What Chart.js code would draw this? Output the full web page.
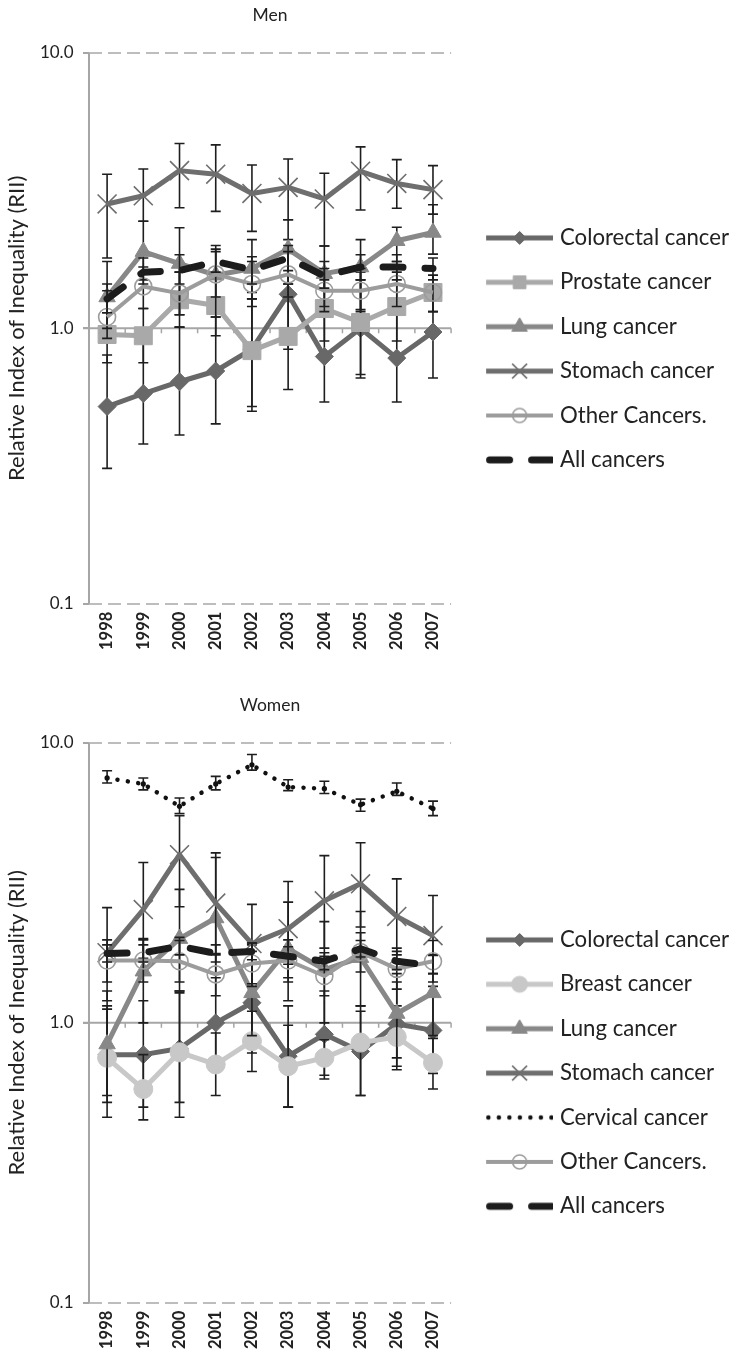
<!DOCTYPE html>
<html>
<head>
<meta charset="utf-8">
<title>Relative Index of Inequality</title>
<script src="https://cdn.jsdelivr.net/npm/chart.js@4/dist/chart.umd.min.js"></script>
<style>
  body { margin: 0; background: #fff; }
  canvas { display: block; }
</style>
</head>
<body>
<canvas id="men-chart" width="739" height="690"></canvas>
<canvas id="women-chart" width="739" height="668"></canvas>
<script>
'use strict'

//categories
let years = ['1998', '1999', '2000', '2001', '2002', '2003', '2004', '2005', '2006', '2007'];
//y axis ticks (log scale)
let yTicks = [0.1, 1, 10];

//men - RII and 95% limits
let menColorectal = [0.52, 0.58, 0.64, 0.70, 0.84, 1.33, 0.79, 1.00, 0.78, 0.97];
let menColorectalLow = [0.31, 0.38, 0.41, 0.45, 0.50, 0.84, 0.54, 0.66, 0.54, 0.66];
let menColorectalHigh = [0.80, 0.89, 1.01, 1.10, 1.35, 2.10, 1.15, 1.50, 1.15, 1.45];

let menProstate = [0.95, 0.94, 1.27, 1.21, 0.83, 0.935, 1.18, 1.05, 1.20, 1.35];
let menProstateLow = [0.75, 0.75, 1.01, 0.94, 0.52, 0.60, 0.90, 0.68, 0.90, 1.15];
let menProstateHigh = [1.14, 1.18, 1.60, 1.55, 1.28, 1.45, 1.50, 1.60, 1.60, 1.56];

let menLung = [1.30, 1.90, 1.72, 1.56, 1.65, 1.94, 1.58, 1.67, 2.08, 2.23];
let menLungLow = [1.00, 1.50, 1.12, 1.10, 1.28, 1.45, 1.20, 1.17, 1.75, 1.86];
let menLungHigh = [1.75, 2.45, 2.32, 2.00, 2.10, 2.48, 1.99, 2.10, 2.33, 2.81];

let menStomach = [2.83, 3.03, 3.74, 3.63, 3.09, 3.25, 2.95, 3.72, 3.36, 3.19];
let menStomachLow = [1.80, 2.45, 2.74, 2.66, 2.25, 2.48, 1.99, 2.69, 2.73, 2.60];
let menStomachHigh = [3.63, 3.79, 4.69, 4.64, 3.92, 4.12, 3.66, 4.56, 4.10, 3.90];

let menOther = [1.10, 1.42, 1.34, 1.57, 1.45, 1.57, 1.37, 1.37, 1.45, 1.35];
let menOtherLow = [0.92, 1.18, 1.12, 1.30, 1.20, 1.30, 1.15, 1.15, 1.20, 1.15];
let menOtherHigh = [1.37, 1.67, 1.60, 1.90, 1.75, 1.90, 1.65, 1.65, 1.75, 1.56];

let menAll = [1.28, 1.60, 1.62, 1.75, 1.63, 1.80, 1.55, 1.67, 1.67, 1.65];
let menAllLow = [1.14, 1.45, 1.45, 1.60, 1.45, 1.62, 1.40, 1.50, 1.50, 1.50];
let menAllHigh = [1.45, 1.80, 1.85, 1.94, 1.82, 2.00, 1.75, 1.85, 1.85, 1.80];

//women - RII and 95% limits
let womenColorectal = [0.77, 0.77, 0.81, 1.00, 1.18, 0.76, 0.91, 0.79, 0.99, 0.94];
let womenColorectalLow = [0.52, 0.50, 0.52, 0.70, 0.78, 0.50, 0.63, 0.55, 0.70, 0.66];
let womenColorectalHigh = [1.12, 1.20, 1.28, 1.45, 1.80, 1.15, 1.30, 1.10, 1.40, 1.35];

let womenBreast = [0.75, 0.58, 0.785, 0.71, 0.86, 0.70, 0.75, 0.85, 0.89, 0.72];
let womenBreastLow = [0.46, 0.45, 0.46, 0.55, 0.67, 0.50, 0.65, 0.55, 0.68, 0.58];
let womenBreastHigh = [1.15, 0.77, 1.30, 0.92, 1.10, 0.98, 0.87, 1.15, 1.15, 0.88];

let womenLung = [0.84, 1.53, 2.00, 2.37, 1.28, 1.84, 1.55, 1.71, 1.08, 1.28];
let womenLungLow = [0.55, 1.00, 1.30, 1.50, 0.90, 1.20, 1.00, 1.15, 0.75, 0.90];
let womenLungHigh = [1.30, 2.00, 3.00, 3.90, 1.90, 2.70, 2.30, 2.50, 1.50, 1.75];

let womenStomach = [1.78, 2.54, 3.99, 2.68, 1.92, 2.17, 2.73, 3.14, 2.40, 2.05];
let womenStomachLow = [1.20, 1.70, 2.60, 1.75, 1.35, 1.45, 1.85, 2.20, 1.75, 1.50];
let womenStomachHigh = [2.58, 3.74, 5.50, 4.05, 2.65, 3.20, 3.96, 4.40, 3.27, 2.85];

let womenCervical = [7.50, 7.14, 5.94, 7.14, 8.36, 6.96, 6.87, 6.02, 6.72, 5.83];
let womenCervicalLow = [7.20, 6.80, 5.60, 6.80, 8.00, 6.76, 6.60, 5.70, 6.50, 5.50];
let womenCervicalHigh = [7.96, 7.50, 6.36, 7.60, 9.10, 7.39, 7.30, 6.30, 7.20, 6.20];

let womenOther = [1.67, 1.67, 1.66, 1.49, 1.63, 1.67, 1.47, 1.79, 1.56, 1.66];
let womenOtherLow = [1.40, 1.40, 1.40, 1.25, 1.38, 1.40, 1.25, 1.52, 1.32, 1.40];
let womenOtherHigh = [1.98, 1.98, 1.97, 1.77, 1.93, 1.98, 1.73, 2.10, 1.85, 1.97];

let womenAll = [1.77, 1.78, 1.88, 1.77, 1.80, 1.73, 1.66, 1.84, 1.66, 1.60];
let womenAllLow = [1.65, 1.65, 1.75, 1.65, 1.68, 1.62, 1.55, 1.72, 1.55, 1.50];
let womenAllHigh = [1.90, 1.90, 2.02, 1.90, 1.93, 1.87, 1.78, 1.97, 1.80, 1.74];

//greys
let colorectalGrey = '#686868';
let prostateGrey = '#a9a9a9';
let lungGrey = '#888888';
let stomachGrey = '#6e6e6e';
let otherGrey = '#9c9c9c';
let breastGrey = '#c8c8c8';
let axisGrey = '#a6a6a6';
let textColour = '#222222';

Chart.defaults.font.family = 'Lato, "Open Sans", sans-serif';
Chart.defaults.color = textColour;

//series with a line and a marker
function markerLine(label, data, low, high, colour, marker, radius, legendRadius){
  return {
    label: label,
    data: data,
    low: low,
    high: high,
    borderColor: colour,
    backgroundColor: colour,
    borderWidth: 5,
    borderJoinStyle: 'round',
    pointStyle: marker,
    pointRadius: radius,
    pointBackgroundColor: colour,
    pointBorderColor: colour,
    pointBorderWidth: 1,
    legendRadius: legendRadius,
    tension: 0,
    fill: false
  };
}

function stomachLine(data, low, high){
  let ds = markerLine('Stomach cancer', data, low, high, stomachGrey, 'crossRot', 13.4, 10.5);
  ds.pointBorderWidth = 1.6;
  return ds;
}

function otherLine(data, low, high){
  let ds = markerLine('Other Cancers.', data, low, high, otherGrey, 'circle', 8.5, 7);
  ds.borderWidth = 4;
  ds.pointBackgroundColor = 'rgba(255,255,255,0)';
  ds.pointBorderWidth = 1.6;
  return ds;
}

function allLine(data, low, high){
  return {
    label: 'All cancers',
    data: data,
    low: low,
    high: high,
    borderColor: '#1c1c1c',
    backgroundColor: '#1c1c1c',
    borderWidth: 7,
    borderDash: [20, 22],
    borderCapStyle: 'round',
    pointRadius: 0,
    tension: 0,
    fill: false
  };
}

//vertical axis + the horizontal axis crossing at 1.0
let axisLines = {
  id: 'axisLines',
  beforeDatasetsDraw(chart){
    let ctx = chart.ctx;
    let area = chart.chartArea;
    let x = chart.scales.x;
    let y1 = chart.scales.y.getPixelForValue(1);
    let step = x.getPixelForValue(1) - x.getPixelForValue(0);
    ctx.save();
    ctx.strokeStyle = axisGrey;
    ctx.lineWidth = 2;
    ctx.beginPath();
    ctx.moveTo(area.left, area.top);
    ctx.lineTo(area.left, area.bottom);
    ctx.moveTo(area.left - 6, y1);
    ctx.lineTo(area.right, y1);
    ctx.stroke();
    ctx.lineWidth = 1.5;
    ctx.beginPath();
    for(let i = 0; i < years.length; i++){
      let px = x.getPixelForValue(i) + step / 2;
      ctx.moveTo(px, y1);
      ctx.lineTo(px, y1 + 5);
    }
    ctx.stroke();
    ctx.restore();
  }
};

//error bars, drawn just before each series
let errorBars = {
  id: 'errorBars',
  beforeDatasetDraw(chart, args){
    let ds = chart.data.datasets[args.index];
    if(!ds.low){
      return;
    }
    let ctx = chart.ctx;
    let y = chart.scales.y;
    ctx.save();
    ctx.strokeStyle = '#1e1e1e';
    ctx.lineWidth = 1.6;
    ctx.beginPath();
    args.meta.data.forEach((pt, i) => {
      let top = y.getPixelForValue(ds.high[i]);
      let bottom = y.getPixelForValue(ds.low[i]);
      ctx.moveTo(pt.x, top);
      ctx.lineTo(pt.x, bottom);
      ctx.moveTo(pt.x - 5, top);
      ctx.lineTo(pt.x + 5, top);
      ctx.moveTo(pt.x - 5, bottom);
      ctx.lineTo(pt.x + 5, bottom);
    });
    ctx.stroke();
    ctx.restore();
  }
};

//legend sample: a piece of line with the marker in the middle
function legendSample(ds){
  let c = document.createElement('canvas');
  c.width = 84;
  c.height = 26;
  let g = c.getContext('2d');
  g.strokeStyle = ds.borderColor;
  g.lineWidth = ds.borderWidth;
  g.lineCap = ds.borderCapStyle || 'butt';
  g.setLineDash(ds.borderDash || []);
  let start = g.lineCap === 'round' ? 17 + ds.borderWidth / 2 : 17;
  g.beginPath();
  g.moveTo(start, 13);
  g.lineTo(84, 13);
  g.stroke();
  if(ds.legendRadius && Chart.helpers && Chart.helpers.drawPoint){
    g.setLineDash([]);
    g.fillStyle = ds.pointBackgroundColor;
    g.strokeStyle = ds.pointBorderColor;
    g.lineWidth = ds.pointBorderWidth;
    Chart.helpers.drawPoint(g, {pointStyle: ds.pointStyle, radius: ds.legendRadius, rotation: 0, borderWidth: ds.pointBorderWidth}, 50.5, 13);
  }
  return c;
}

function makeChart(id, title, datasets, legendTop, bottomPad){
  let n = datasets.length;
  //last series on top, like the original
  datasets.forEach((ds, i) => { ds.order = n - i; });

  return new Chart(document.getElementById(id), {
    type: 'line',
    data: {
      labels: years,
      datasets: datasets
    },
    options: {
      responsive: false,
      animation: false,
      events: [],
      layout: {
        padding: {left: 0, right: 0, top: 0, bottom: bottomPad}
      },
      scales: {
        x: {
          type: 'category',
          offset: true,
          grid: {display: false, drawTicks: false},
          border: {display: false},
          ticks: {
            autoSkip: false,
            minRotation: 90,
            maxRotation: 90,
            padding: 8,
            color: textColour,
            font: {size: 16.5, weight: 'bold'}
          }
        },
        y: {
          type: 'logarithmic',
          min: 0.1,
          max: 10,
          afterBuildTicks: (scale) => {
            scale.ticks = yTicks.map((v) => ({value: v}));
          },
          grid: {
            color: (c) => (c.tick && c.tick.value === 1) ? 'rgba(0,0,0,0)' : '#bdbdbd',
            lineWidth: 2,
            tickColor: axisGrey,
            tickLength: 6,
            tickWidth: 2
          },
          border: {display: false, dash: [13, 6]},
          ticks: {
            padding: 9.5,
            color: textColour,
            font: {size: 17},
            callback: (value) => Number(value).toFixed(1)
          },
          title: {
            display: true,
            text: 'Relative Index of Inequality (RII)',
            color: textColour,
            font: {size: 22},
            padding: {top: 4, bottom: 0}
          }
        }
      },
      plugins: {
        title: {
          display: true,
          text: title,
          fullSize: false,
          color: textColour,
          font: {size: 17.5, weight: 'normal'},
          padding: {top: 5, bottom: 27}
        },
        tooltip: {enabled: false},
        legend: {
          position: 'right',
          align: 'start',
          maxWidth: 400,
          title: {
            display: true,
            text: '',
            font: {size: 1, lineHeight: 1},
            padding: {top: legendTop - 1, bottom: 0}
          },
          labels: {
            usePointStyle: true,
            pointStyleWidth: 75.6,
            padding: 22.2,
            color: textColour,
            font: {size: 22.2},
            sort: (a, b) => a.datasetIndex - b.datasetIndex,
            generateLabels: (chart) => {
              let items = Chart.defaults.plugins.legend.labels.generateLabels(chart);
              items.forEach((item) => {
                item.pointStyle = legendSample(chart.data.datasets[item.datasetIndex]);
              });
              return items;
            }
          }
        }
      }
    },
    plugins: [axisLines, errorBars]
  });
}

//men
makeChart('men-chart', 'Men', [
  markerLine('Colorectal cancer', menColorectal, menColorectalLow, menColorectalHigh, colorectalGrey, 'rectRot', 9, 6.5),
  markerLine('Prostate cancer', menProstate, menProstateLow, menProstateHigh, prostateGrey, 'rect', 12.7, 9),
  markerLine('Lung cancer', menLung, menLungLow, menLungHigh, lungGrey, 'triangle', 9.5, 9),
  stomachLine(menStomach, menStomachLow, menStomachHigh),
  otherLine(menOther, menOtherLow, menOtherHigh),
  allLine(menAll, menAllLow, menAllHigh)
], 204.6, 32);

//women
let cervical = {
  label: 'Cervical cancer',
  data: womenCervical,
  low: womenCervicalLow,
  high: womenCervicalHigh,
  borderColor: '#111111',
  backgroundColor: '#111111',
  borderWidth: 4.5,
  borderDash: [0.01, 10.5],
  borderCapStyle: 'round',
  pointStyle: 'circle',
  pointRadius: 2.6,
  pointBackgroundColor: '#111111',
  pointBorderColor: '#111111',
  pointBorderWidth: 0,
  tension: 0,
  fill: false
};

makeChart('women-chart', 'Women', [
  markerLine('Colorectal cancer', womenColorectal, womenColorectalLow, womenColorectalHigh, colorectalGrey, 'rectRot', 9, 6.5),
  markerLine('Breast cancer', womenBreast, womenBreastLow, womenBreastHigh, breastGrey, 'circle', 9.5, 8),
  markerLine('Lung cancer', womenLung, womenLungLow, womenLungHigh, lungGrey, 'triangle', 9.5, 9),
  stomachLine(womenStomach, womenStomachLow, womenStomachHigh),
  cervical,
  otherLine(womenOther, womenOtherLow, womenOtherHigh),
  allLine(womenAll, womenAllLow, womenAllHigh)
], 216.6, 1);
</script>
</body>
</html>
